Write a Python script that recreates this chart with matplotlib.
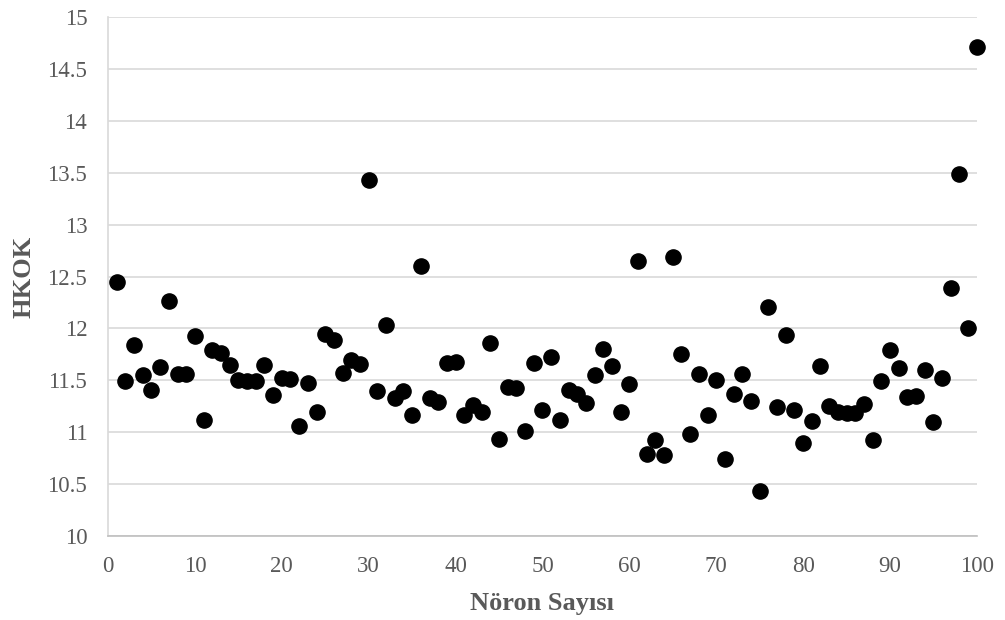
import numpy as np
import matplotlib
matplotlib.use("Agg")
import matplotlib.pyplot as plt

# neuron count (x) and HKOK value (y)
noron = np.arange(1, 101)
hkok = [
    12.45, 11.49, 11.84, 11.55, 11.41, 11.63, 12.26, 11.56, 11.56, 11.93,
    11.12, 11.79, 11.76, 11.65, 11.50, 11.49, 11.49, 11.65, 11.36, 11.52,
    11.51, 11.06, 11.48, 11.20, 11.95, 11.89, 11.57, 11.70, 11.66, 13.43,
    11.40, 12.03, 11.33, 11.40, 11.17, 12.60, 11.33, 11.29, 11.67, 11.68,
    11.17, 11.26, 11.20, 11.86, 10.94, 11.44, 11.43, 11.01, 11.67, 11.22,
    11.73, 11.12, 11.41, 11.37, 11.28, 11.55, 11.80, 11.64, 11.20, 11.47,
    12.65, 10.79, 10.93, 10.78, 12.69, 11.75, 10.98, 11.56, 11.17, 11.50,
    10.74, 11.37, 11.56, 11.30, 10.44, 12.21, 11.24, 11.94, 11.22, 10.90,
    11.11, 11.64, 11.25, 11.20, 11.19, 11.19, 11.27, 10.93, 11.49, 11.79,
    11.62, 11.34, 11.35, 11.60, 11.10, 11.52, 12.39, 13.49, 12.00, 14.71,
]
x_ticks = np.arange(0, 101, 10)
y_ticks = [10, 10.5, 11, 11.5, 12, 12.5, 13, 13.5, 14, 14.5, 15]

plt.rcParams['font.family'] = ['Liberation Serif', 'DejaVu Serif']
GREY = '#595959'

fig = plt.figure(figsize=(10.05, 6.2), dpi=100)
ax = fig.add_axes([0.1075, 0.135, 0.8645, 0.838])

ax.scatter(noron, hkok, s=120, color='black', zorder=3, clip_on=False)

ax.set_xlim(0, 100)
ax.set_ylim(10, 15)
ax.set_xticks(x_ticks)
ax.set_yticks(y_ticks)
ax.set_yticklabels([f'{v:g}' for v in y_ticks])
ax.tick_params(axis='both', length=0, labelsize=16.5, colors=GREY)
ax.tick_params(axis='x', pad=14)
ax.tick_params(axis='y', pad=15)

ax.grid(axis='y', color='#d9d9d9', linewidth=1.2)
ax.set_axisbelow(True)
for side in ['top', 'right']:
    ax.spines[side].set_visible(False)
ax.spines['left'].set_color('#d9d9d9')
ax.spines['bottom'].set_color('#bfbfbf')
ax.spines['left'].set_linewidth(1.2)
ax.spines['bottom'].set_linewidth(1.2)

ax.set_xlabel('Nöron Sayısı', fontsize=19, fontweight='bold', color=GREY, labelpad=11)
ax.set_ylabel('HKOK', fontsize=19, fontweight='bold', color=GREY, labelpad=8.5)

fig.savefig('out.png', dpi=100)
